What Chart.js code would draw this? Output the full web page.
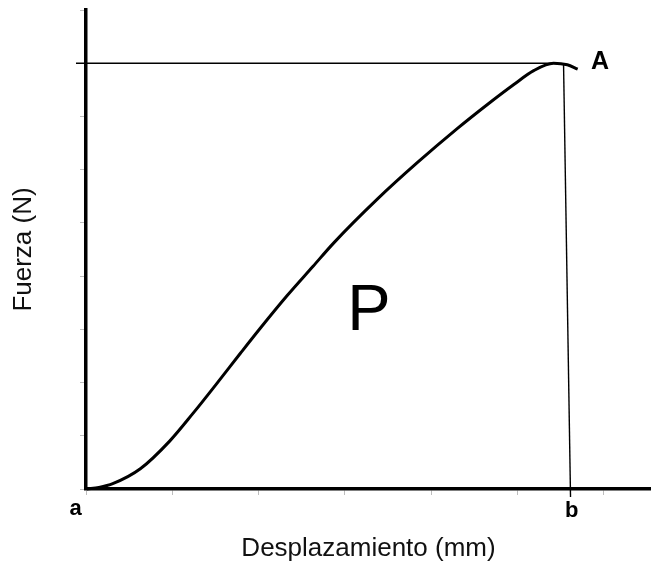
<!DOCTYPE html>
<html>
<head>
<meta charset="utf-8">
<script src="https://cdn.jsdelivr.net/npm/chart.js@4/dist/chart.umd.min.js"></script>
<style>
  html, body { margin: 0; padding: 0; background: #fff; }
  #wrap { width: 651px; height: 564px; position: relative; }
</style>
</head>
<body>
<div id="wrap"><canvas id="c"></canvas></div>
<script>
// ---- data ----
const curveX = [0.01, 0.15, 0.31, 0.63, 0.97, 1.24, 1.52, 1.79, 2.02, 2.33, 2.63, 2.87, 3.38, 3.84, 4.31, 4.65, 4.96, 5.19, 5.42, 5.58, 5.70];
const curveY = [0.00, 0.03, 0.10, 0.38, 0.90, 1.42, 1.99, 2.55, 3.02, 3.63, 4.18, 4.62, 5.45, 6.13, 6.78, 7.22, 7.60, 7.86, 8.00, 7.97, 7.89];
const peakLineX = [-0.116, 5.44];
const peakLineY = [8.0, 8.0];
const dropLineX = [5.536, 5.617];
const dropLineY = [8.0, -0.15];
const xTicks = [0, 1, 2, 3, 4, 5, 6];
const yTicks = [0, 1, 2, 3, 4, 5, 6, 7, 8, 9];
const annotLabels = ['P', 'A', 'a', 'b'];
const annotX = [3.28, 5.96, -0.12, 5.63];
const annotY = [3.33, 8.03, -0.37, -0.41];
const xTitle = 'Desplazamiento (mm)';
const yTitle = 'Fuerza (N)';

const toPts = (xs, ys) => xs.map((x, i) => ({ x: x, y: ys[i] }));

const annotStyles = [
  { font: '65px "Liberation Sans", Arial, sans-serif' },
  { font: 'bold 25px "Liberation Sans", Arial, sans-serif' },
  { font: 'bold 22px "Liberation Sans", Arial, sans-serif' },
  { font: 'bold 22px "Liberation Sans", Arial, sans-serif' }
];

const annotPlugin = {
  id: 'annot',
  afterDatasetsDraw(chart) {
    const { ctx, scales: { x, y } } = chart;
    ctx.save();
    ctx.fillStyle = '#000';
    ctx.textAlign = 'center';
    ctx.textBaseline = 'middle';
    annotLabels.forEach((t, i) => {
      ctx.font = annotStyles[i].font;
      ctx.fillText(t, x.getPixelForValue(annotX[i]), y.getPixelForValue(annotY[i]));
    });
    ctx.restore();
  }
};

new Chart(document.getElementById('c'), {
  type: 'scatter',
  data: {
    datasets: [
      {
        data: toPts(curveX, curveY),
        showLine: true,
        borderColor: '#000',
        borderWidth: 3,
        pointRadius: 0,
        cubicInterpolationMode: 'monotone',
        clip: false
      },
      {
        data: toPts(peakLineX, peakLineY),
        showLine: true,
        borderColor: '#000',
        borderWidth: 1.6,
        pointRadius: 0,
        clip: false
      },
      {
        data: toPts(dropLineX, dropLineY),
        showLine: true,
        borderColor: '#000',
        borderWidth: 1.4,
        pointRadius: 0,
        clip: false
      }
    ]
  },
  options: {
    responsive: true,
    maintainAspectRatio: false,
    animation: false,
    layout: { padding: { top: 10, right: 0, left: 0, bottom: 0 } },
    plugins: { legend: { display: false }, tooltip: { enabled: false } },
    scales: {
      x: {
        type: 'linear',
        min: 0,
        max: 6.55,
        afterBuildTicks(scale) { scale.ticks = xTicks.map(v => ({ value: v })); },
        afterFit(scale) { scale.height = 564 - 489; },
        ticks: { display: false },
        grid: { drawOnChartArea: false, drawTicks: true, tickLength: 6, color: '#bdbdbd', lineWidth: 1 },
        border: { display: true, color: '#000', width: 3.5 },
        title: {
          display: true,
          text: xTitle,
          color: '#111',
          font: { family: '"Liberation Sans", Arial, sans-serif', size: 26, lineHeight: 1.2 },
          padding: { top: 0, bottom: 0 }
        }
      },
      y: {
        type: 'linear',
        min: 0,
        max: 9,
        afterBuildTicks(scale) { scale.ticks = yTicks.map(v => ({ value: v })); },
        afterFit(scale) { scale.width = 86; },
        ticks: { display: false },
        grid: { drawOnChartArea: false, drawTicks: true, tickLength: 6, color: '#bdbdbd', lineWidth: 1 },
        border: { display: true, color: '#000', width: 3.5 },
        title: {
          display: true,
          text: yTitle,
          color: '#111',
          font: { family: '"Liberation Sans", Arial, sans-serif', size: 26, lineHeight: 1.2 },
          padding: { top: 8, bottom: 0 }
        }
      }
    }
  },
  plugins: [annotPlugin]
});
</script>
</body>
</html>
